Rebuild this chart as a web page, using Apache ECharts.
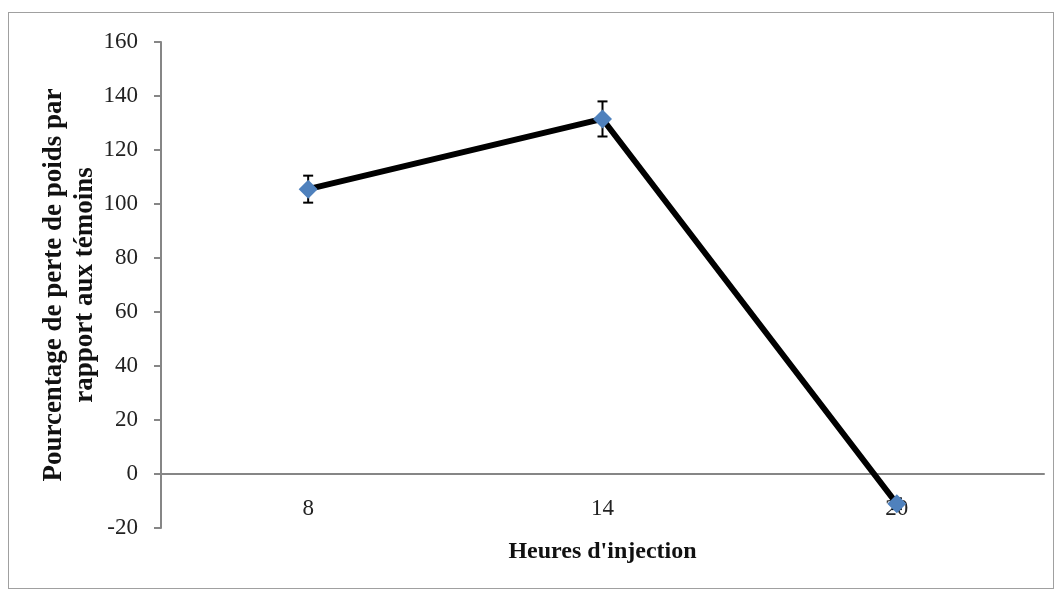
<!DOCTYPE html>
<html>
<head>
<meta charset="utf-8">
<script src="https://cdn.jsdelivr.net/npm/echarts@6/dist/echarts.min.js"></script>
<style>
html,body{margin:0;padding:0;background:#fff;}
#frame{position:absolute;left:8px;top:12px;width:1046px;height:577px;border:1px solid #a0a0a0;box-sizing:border-box;}
#chart{position:absolute;left:0;top:0;width:1059px;height:592px;}
</style>
</head>
<body>
<div id="frame"></div>
<div id="chart"></div>
<script>
const categories = ['8', '14', '20'];
const values = [105.5, 131.5, -11];
const errors = [5, 6.5, 2];
const yTicks = { min: -20, max: 160, interval: 20 };

const chart = echarts.init(document.getElementById('chart'));
const font = '"Liberation Serif", "Times New Roman", serif';
const errData = categories.map((c, i) => [i, values[i] - errors[i], values[i] + errors[i]]);

chart.setOption({
  animation: false,
  backgroundColor: 'transparent',
  grid: { left: 161, right: 15, top: 42, bottom: 64, containLabel: false, outerBoundsMode: 'none' },
  xAxis: {
    type: 'category',
    data: categories,
    boundaryGap: true,
    axisLine: { onZero: true, lineStyle: { color: '#868686', width: 2 } },
    axisTick: { show: false },
    axisLabel: { margin: -31, fontFamily: font, fontSize: 23, color: '#222' },
    name: "Heures d'injection",
    nameLocation: 'middle',
    nameGap: 12,
    nameMoveOverlap: false,
    nameTextStyle: { fontFamily: font, fontSize: 24, fontWeight: 'bold', color: '#111' }
  },
  yAxis: {
    type: 'value',
    min: yTicks.min, max: yTicks.max, interval: yTicks.interval,
    splitLine: { show: false },
    axisLine: { show: true, lineStyle: { color: '#868686', width: 2 } },
    axisTick: { show: true, length: 7, lineStyle: { color: '#868686', width: 2 } },
    axisLabel: { margin: 23, fontFamily: font, fontSize: 23, color: '#222' },
    name: 'Pourcentage de perte de poids par\nrapport aux témoins',
    nameLocation: 'middle',
    nameRotate: 90,
    nameGap: 60,
    nameMoveOverlap: false,
    nameTextStyle: { fontFamily: font, fontSize: 27, fontWeight: 'bold', color: '#111', lineHeight: 31 }
  },
  series: [
    {
      type: 'line',
      data: values,
      lineStyle: { color: '#000', width: 6 },
      symbol: 'diamond',
      symbolSize: 19,
      itemStyle: { color: '#4F81BD' },
      z: 3
    },
    {
      type: 'custom',
      data: errData,
      z: 2,
      renderItem: function (params, api) {
        const x = api.coord([api.value(0), 0])[0];
        const lo = api.coord([api.value(0), api.value(1)])[1];
        const hi = api.coord([api.value(0), api.value(2)])[1];
        const w = 5;
        const st = { stroke: '#000', lineWidth: 2 };
        return { type: 'group', children: [
          { type: 'line', shape: { x1: x, y1: lo, x2: x, y2: hi }, style: st },
          { type: 'line', shape: { x1: x - w, y1: lo, x2: x + w, y2: lo }, style: st },
          { type: 'line', shape: { x1: x - w, y1: hi, x2: x + w, y2: hi }, style: st }
        ]};
      }
    }
  ]
});
</script>
</body>
</html>
